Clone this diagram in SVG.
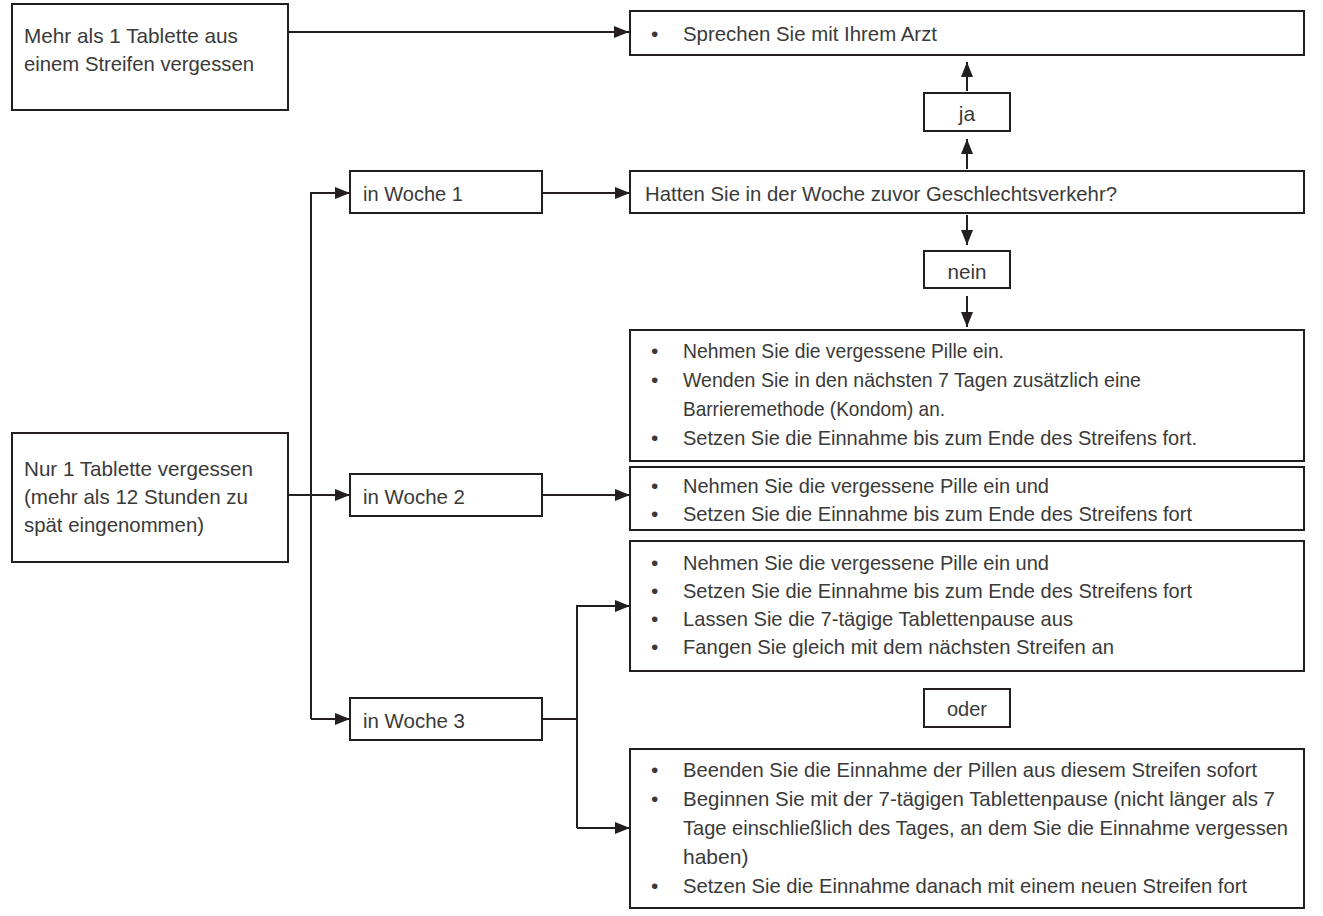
<svg xmlns="http://www.w3.org/2000/svg" width="1323" height="916" viewBox="0 0 1323 916">
<style>
.box{fill:#fff;stroke:#231f20;stroke-width:2}
.ln{fill:none;stroke:#231f20;stroke-width:2}
text{font-family:"Liberation Sans",Arial,sans-serif;font-size:21px;fill:#3a3a3a}
</style>
<defs>
<marker id="ah" markerUnits="userSpaceOnUse" markerWidth="16" markerHeight="12" refX="15" refY="6" orient="auto">
<path d="M0,0 L15,6 L0,12 z" fill="#231f20"/>
</marker>
</defs>
<rect width="1323" height="916" fill="#fff"/>
<g id="connectors">
<path class="ln" d="M288,32 H629" marker-end="url(#ah)"/>
<path class="ln" d="M967,91 V62" marker-end="url(#ah)"/>
<path class="ln" d="M967,169 V139" marker-end="url(#ah)"/>
<path class="ln" d="M967,215 V245" marker-end="url(#ah)"/>
<path class="ln" d="M967,296 V327" marker-end="url(#ah)"/>
<path class="ln" d="M311,719 V193 H350" marker-end="url(#ah)"/>
<path class="ln" d="M288,495 H350" marker-end="url(#ah)"/>
<path class="ln" d="M311,719 H350" marker-end="url(#ah)"/>
<path class="ln" d="M542,193 H630" marker-end="url(#ah)"/>
<path class="ln" d="M542,495 H630" marker-end="url(#ah)"/>
<path class="ln" d="M542,719 H577"/>
<path class="ln" d="M577,828 V606 H630" marker-end="url(#ah)"/>
<path class="ln" d="M577,828 H630" marker-end="url(#ah)"/>
</g>
<g id="nodeA">
<rect class="box" x="12" y="4" width="276" height="106"/>
<text x="24" y="43" textLength="214" lengthAdjust="spacingAndGlyphs">Mehr als 1 Tablette aus</text>
<text x="24" y="71" textLength="230" lengthAdjust="spacingAndGlyphs">einem Streifen vergessen</text>
</g>
<g id="nodeB">
<rect class="box" x="630" y="11" width="674" height="44"/>
<text x="651" y="41">•</text>
<text x="683" y="41" textLength="254" lengthAdjust="spacingAndGlyphs">Sprechen Sie mit Ihrem Arzt</text>
</g>
<g id="nodeJa">
<rect class="box" x="924" y="93" width="86" height="38"/>
<text x="967" y="121" text-anchor="middle">ja</text>
</g>
<g id="nodeQ">
<rect class="box" x="630" y="171" width="674" height="42"/>
<text x="645" y="201" textLength="472" lengthAdjust="spacingAndGlyphs">Hatten Sie in der Woche zuvor Geschlechtsverkehr?</text>
</g>
<g id="nodeNein">
<rect class="box" x="924" y="251" width="86" height="37"/>
<text x="967" y="279" text-anchor="middle" textLength="39" lengthAdjust="spacingAndGlyphs">nein</text>
</g>
<g id="nodeW1">
<rect class="box" x="350" y="171" width="192" height="42"/>
<text x="363" y="201" textLength="100" lengthAdjust="spacingAndGlyphs">in Woche 1</text>
</g>
<g id="nodeC">
<rect class="box" x="630" y="330" width="674" height="131"/>
<text x="651" y="358">•</text>
<text x="683" y="358" textLength="321" lengthAdjust="spacingAndGlyphs">Nehmen Sie die vergessene Pille ein.</text>
<text x="651" y="387">•</text>
<text x="683" y="387" textLength="458" lengthAdjust="spacingAndGlyphs">Wenden Sie in den nächsten 7 Tagen zusätzlich eine</text>
<text x="683" y="416" textLength="262" lengthAdjust="spacingAndGlyphs">Barrieremethode (Kondom) an.</text>
<text x="651" y="445">•</text>
<text x="683" y="445" textLength="514" lengthAdjust="spacingAndGlyphs">Setzen Sie die Einnahme bis zum Ende des Streifens fort.</text>
</g>
<g id="nodeNur">
<rect class="box" x="12" y="433" width="276" height="129"/>
<text x="24" y="476" textLength="229" lengthAdjust="spacingAndGlyphs">Nur 1 Tablette vergessen</text>
<text x="24" y="504" textLength="224" lengthAdjust="spacingAndGlyphs">(mehr als 12 Stunden zu</text>
<text x="24" y="532" textLength="180" lengthAdjust="spacingAndGlyphs">spät eingenommen)</text>
</g>
<g id="nodeW2">
<rect class="box" x="350" y="474" width="192" height="42"/>
<text x="363" y="504" textLength="102" lengthAdjust="spacingAndGlyphs">in Woche 2</text>
</g>
<g id="nodeD">
<rect class="box" x="630" y="467" width="674" height="63"/>
<text x="651" y="493">•</text>
<text x="683" y="493" textLength="366" lengthAdjust="spacingAndGlyphs">Nehmen Sie die vergessene Pille ein und</text>
<text x="651" y="521">•</text>
<text x="683" y="521" textLength="509" lengthAdjust="spacingAndGlyphs">Setzen Sie die Einnahme bis zum Ende des Streifens fort</text>
</g>
<g id="nodeE">
<rect class="box" x="630" y="541" width="674" height="130"/>
<text x="651" y="570">•</text>
<text x="683" y="570" textLength="366" lengthAdjust="spacingAndGlyphs">Nehmen Sie die vergessene Pille ein und</text>
<text x="651" y="598">•</text>
<text x="683" y="598" textLength="509" lengthAdjust="spacingAndGlyphs">Setzen Sie die Einnahme bis zum Ende des Streifens fort</text>
<text x="651" y="626">•</text>
<text x="683" y="626" textLength="390" lengthAdjust="spacingAndGlyphs">Lassen Sie die 7-tägige Tablettenpause aus</text>
<text x="651" y="654">•</text>
<text x="683" y="654" textLength="431" lengthAdjust="spacingAndGlyphs">Fangen Sie gleich mit dem nächsten Streifen an</text>
</g>
<g id="nodeW3">
<rect class="box" x="350" y="698" width="192" height="42"/>
<text x="363" y="728" textLength="102" lengthAdjust="spacingAndGlyphs">in Woche 3</text>
</g>
<g id="nodeOder">
<rect class="box" x="924" y="689" width="86" height="38"/>
<text x="967" y="716" text-anchor="middle" textLength="40" lengthAdjust="spacingAndGlyphs">oder</text>
</g>
<g id="nodeF">
<rect class="box" x="630" y="749" width="674" height="159"/>
<text x="651" y="777">•</text>
<text x="683" y="777" textLength="574" lengthAdjust="spacingAndGlyphs">Beenden Sie die Einnahme der Pillen aus diesem Streifen sofort</text>
<text x="651" y="806">•</text>
<text x="683" y="806" textLength="592" lengthAdjust="spacingAndGlyphs">Beginnen Sie mit der 7-tägigen Tablettenpause (nicht länger als 7</text>
<text x="683" y="835" textLength="605" lengthAdjust="spacingAndGlyphs">Tage einschließlich des Tages, an dem Sie die Einnahme vergessen</text>
<text x="683" y="864">haben)</text>
<text x="651" y="893">•</text>
<text x="683" y="893" textLength="564" lengthAdjust="spacingAndGlyphs">Setzen Sie die Einnahme danach mit einem neuen Streifen fort</text>
</g>
</svg>
